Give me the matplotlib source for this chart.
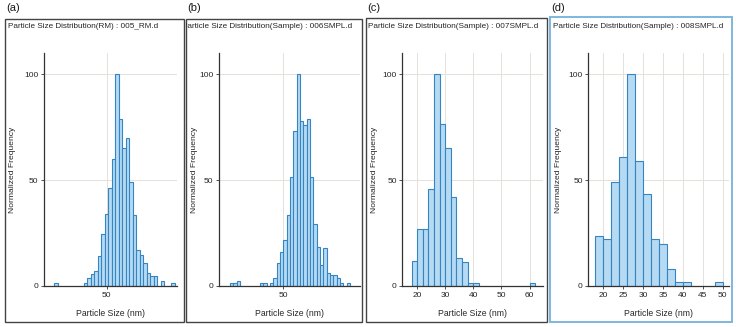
import matplotlib

matplotlib.use("Agg")

import matplotlib.pyplot as plt
from matplotlib.patches import Rectangle
from matplotlib.ticker import MultipleLocator

W, H = 736, 327
DPI = 100

BAR_FILL = "#b6daf2"
BAR_EDGE = "#3584c4"
GRID = "#e4e1dc"
AXIS = "#333333"
TEXT = "#262626"
FRAME_DARK = "#444444"
FRAME_BLUE = "#7db7de"

plt.rcParams["font.family"] = ["Liberation Sans", "DejaVu Sans"]

# bin left edges (nm), 2 nm bins, and normalized frequency per sample
rm005_size = [20, 37, 39, 41, 43, 45, 47, 49, 51, 53, 55, 57, 59, 61, 63, 65,
              67, 69, 71, 73, 75, 77, 81, 87]
rm005_freq = [1.3, 1.3, 3.6, 5.5, 7.0, 14.0, 24.5, 34.0, 46.5, 60.0, 100.0, 79.0,
              65.0, 70.0, 49.0, 33.5, 17.0, 14.6, 10.7, 6.0, 4.9, 4.9, 2.5, 1.3]

s006_size = [18, 20, 22, 36, 38, 42, 44, 46, 48, 50, 52, 54, 56, 58, 60, 62,
             64, 66, 68, 70, 72, 74, 76, 78, 80, 82, 84, 88]
s006_freq = [1.3, 1.3, 2.5, 1.3, 1.3, 1.3, 4.0, 10.7, 16.0, 21.7, 33.5, 51.5,
             73.0, 100.0, 78.0, 76.0, 79.0, 51.5, 29.5, 18.5, 10.0, 17.8, 6.0,
             5.2, 5.2, 4.0, 1.3, 1.3]

s007_size = [18, 20, 22, 24, 26, 28, 30, 32, 34, 36, 38, 40, 60]
s007_freq = [11.8, 26.7, 26.7, 46.0, 100.0, 76.7, 65.0, 42.0, 13.0, 11.5,
             1.6, 1.6, 1.6]

s008_size = [18, 20, 22, 24, 26, 28, 30, 32, 34, 36, 38, 40, 48]
s008_freq = [23.6, 22.0, 49.2, 61.0, 100.0, 59.0, 43.2, 22.0, 19.7, 7.9,
             2.0, 2.0, 2.0]

panels = [
    # label, title, sizes, freqs, xlim, tick step, frame px, axes px, title x px
    ("(a)", "Particle Size Distribution(RM) : 005_RM.d", rm005_size, rm005_freq,
     (14.2, 90.2), 50, (5, 19, 184, 322), (44, 53, 177, 286), 8),
    ("(b)", "Particle Size Distribution(Sample) : 006SMPL.d", s006_size, s006_freq,
     (11.4, 96.0), 50, (186, 19, 362, 322), (219, 53, 360, 286), 182),
    ("(c)", "Particle Size Distribution(Sample) : 007SMPL.d", s007_size, s007_freq,
     (14.7, 64.7), 10, (366, 18, 547, 322), (402.3, 53, 542.7, 286), 368),
    ("(d)", "Particle Size Distribution(Sample) : 008SMPL.d", s008_size, s008_freq,
     (16.2, 51.6), 5, (550, 17, 732, 322), (588.3, 53, 729, 286), 553),
]


def fx(x):
    return x / W


def fy(y):
    return 1 - y / H


def main():
    fig = plt.figure(figsize=(W / DPI, H / DPI), dpi=DPI)
    fig.patch.set_facecolor("white")

    for i, (label, title, sizes, freq, xlim, step, frame, box, tx) in enumerate(panels):
        x0, y0, x1, y1 = frame
        ec = FRAME_BLUE if i == 3 else FRAME_DARK
        lw = 1.4 if i == 3 else 1.0
        rect = Rectangle((fx(x0), fy(y1)), fx(x1 - x0), (y1 - y0) / H,
                         transform=fig.transFigure, fill=False, ec=ec, lw=lw)
        fig.patches.append(rect)

        fig.text(fx(x0 + 1), fy(8), label, fontsize=8, color="#1a1a1a",
                 ha="left", va="center")
        # title sits inside the frame and is cut at its edge
        t = fig.text(fx(tx), fy(26), title, fontsize=5.85, color=TEXT,
                     ha="left", va="center")
        t.set_clip_path(rect)

        ax0, ay0, ax1, ay1 = box
        ax = fig.add_axes([fx(ax0), fy(ay1), fx(ax1 - ax0), (ay1 - ay0) / H])
        ax.bar(sizes, freq, width=2, align="edge", color=BAR_FILL,
               edgecolor=BAR_EDGE, linewidth=0.8, zorder=2)
        ax.set_xlim(*xlim)
        ax.set_ylim(0, 110)
        ax.xaxis.set_major_locator(MultipleLocator(step))
        ax.set_yticks([0, 50, 100])
        ax.grid(True, color=GRID, lw=0.7, zorder=0)
        ax.set_axisbelow(True)
        for s in ("top", "right"):
            ax.spines[s].set_visible(False)
        for s in ("left", "bottom"):
            ax.spines[s].set_color(AXIS)
            ax.spines[s].set_linewidth(0.9)
        ax.tick_params(labelsize=6, length=2.5, width=0.6, colors=AXIS,
                       labelcolor=TEXT, pad=1.5)

        fig.text(fx(x0 + 8), fy((ay0 + ay1) / 2), "Normalized Frequency",
                 rotation=90, fontsize=6.1, color=TEXT, ha="center", va="center")
        fig.text(fx((ax0 + ax1) / 2), fy(314), "Particle Size (nm)",
                 fontsize=6.2, color=TEXT, ha="center", va="center")

    fig.savefig("out.png", dpi=DPI, facecolor="white")
    plt.close(fig)


if __name__ == "__main__":
    main()
